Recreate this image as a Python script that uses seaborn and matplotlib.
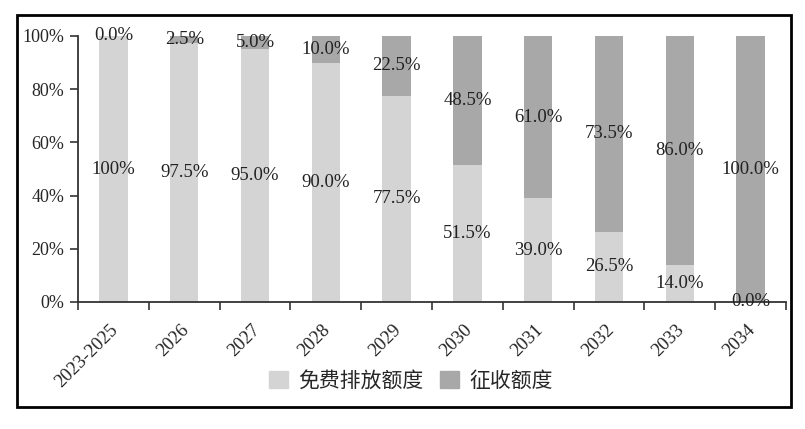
import numpy as np
import pandas as pd
import matplotlib
matplotlib.use("Agg")
import matplotlib.pyplot as plt
import matplotlib.patches as mpatches
import matplotlib.transforms as mtransforms
import seaborn as sns

# data
years = ["2023-2025", "2026", "2027", "2028", "2029", "2030", "2031", "2032", "2033", "2034"]
free_share = [100.0, 97.5, 95.0, 90.0, 77.5, 51.5, 39.0, 26.5, 14.0, 0.0]
levy_share = [0.0, 2.5, 5.0, 10.0, 22.5, 48.5, 61.0, 73.5, 86.0, 100.0]
free_labels = ["100%", "97.5%", "95.0%", "90.0%", "77.5%", "51.5%", "39.0%", "26.5%", "14.0%", "0.0%"]
levy_labels = ["0.0%", "2.5%", "5.0%", "10.0%", "22.5%", "48.5%", "61.0%", "73.5%", "86.0%", "100.0%"]
series_names = ["免费排放额度", "征收额度"]

df = pd.DataFrame({"year": years, "free": free_share, "levy": levy_share})
df["total"] = df["free"] + df["levy"]

light = "#d4d4d4"
dark = "#a8a8a8"

sns.set_style("ticks")
plt.rcParams["font.family"] = ["Liberation Serif", "Noto Sans CJK SC"]

W, H = 805, 429
fig = plt.figure(figsize=(W / 100, H / 100), dpi=100)
ax = fig.add_axes([78 / W, 1 - 302 / H, (786 - 78) / W, (302 - 36) / H])

# stacked: full height in dark, free share in light on top of it
sns.barplot(data=df, x="year", y="total", order=years, color=dark, width=0.4,
            saturation=1, ax=ax, linewidth=0)
sns.barplot(data=df, x="year", y="free", order=years, color=light, width=0.4,
            saturation=1, ax=ax, linewidth=0)

# value labels in the middle of each segment
for i, row in df.iterrows():
    ax.text(i, row["free"] / 2, free_labels[i], ha="center", va="center",
            fontsize=13.5, color="#222222")
    ax.text(i, row["free"] + row["levy"] / 2, levy_labels[i], ha="center",
            va="center", fontsize=13.5, color="#222222")

ax.set_xlim(-0.5, len(years) - 0.5)
ax.set_ylim(0, 100)
ax.set_yticks(np.arange(0, 101, 20))
ax.set_yticklabels([f"{v}%" for v in range(0, 101, 20)], fontsize=13)
ax.set_xlabel("")
ax.set_ylabel("")

# ticks at category boundaries, labels at centres
ax.set_xticks(np.arange(len(years)))
ax.set_xticklabels(years, rotation=45, ha="right", rotation_mode="anchor", fontsize=13.5)
ax.tick_params(axis="x", which="major", length=0, pad=14)
ax.set_xticks(np.arange(-0.5, len(years)), minor=True)
ax.tick_params(axis="x", which="minor", length=6, width=1.2, color="#333333")
ax.tick_params(axis="y", length=6, width=1.2, color="#333333", pad=4)

# nudge the slanted labels a little to the left
shift = mtransforms.ScaledTranslation(-4 / 100, 0, fig.dpi_scale_trans)
for lbl in ax.get_xticklabels():
    lbl.set_transform(lbl.get_transform() + shift)

sns.despine(ax=ax, top=True, right=True)
for s in ["left", "bottom"]:
    ax.spines[s].set_color("#333333")
    ax.spines[s].set_linewidth(1.3)

handles = [mpatches.Patch(color=light, label=series_names[0]),
           mpatches.Patch(color=dark, label=series_names[1])]
fig.legend(handles=handles, loc="center", bbox_to_anchor=(411 / W, 1 - 381 / H),
           ncol=2, frameon=False, handlelength=0.9, handleheight=0.9,
           handletextpad=0.5, columnspacing=0.8,
           prop={"family": ["Noto Sans CJK SC"], "size": 15})

# outer frame
frame = mpatches.Rectangle((17 / W, 1 - 407 / H), (791 - 17) / W, (407 - 15) / H,
                           transform=fig.transFigure, fill=False,
                           edgecolor="black", linewidth=2)
fig.patches.append(frame)

fig.savefig("out.png", dpi=100)
